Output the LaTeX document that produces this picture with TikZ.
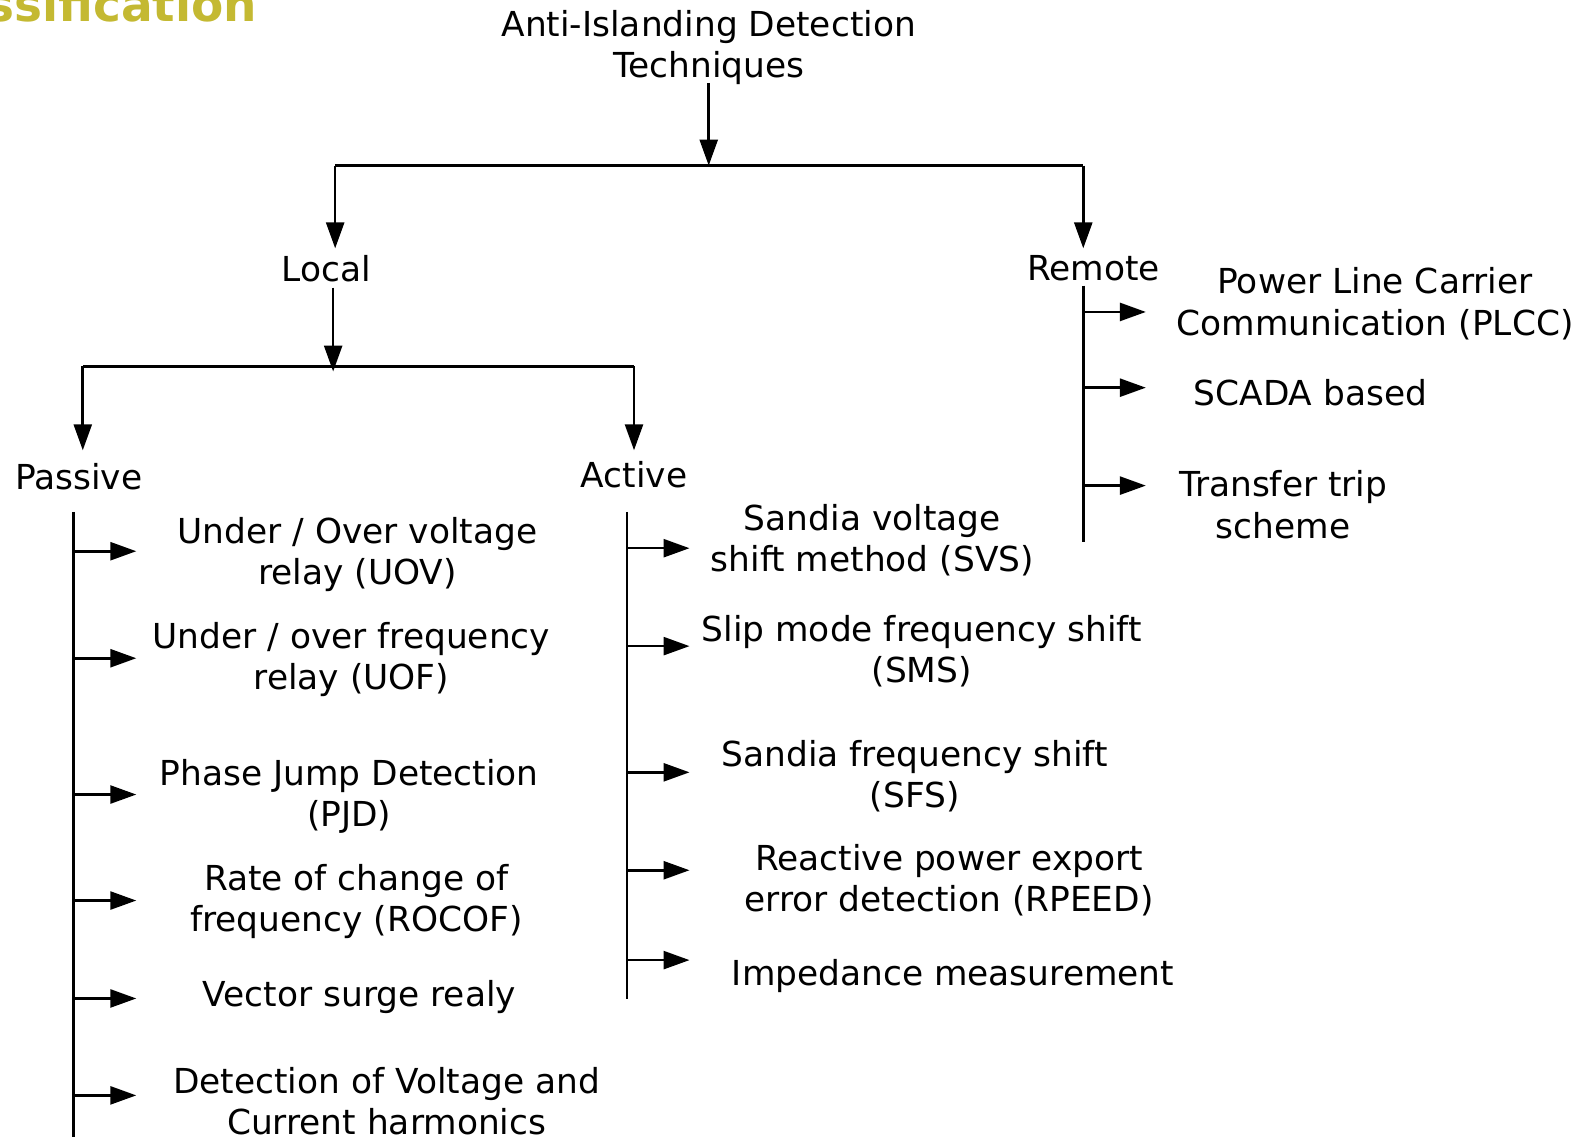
\documentclass[tikz,border=0pt]{standalone}
\usepackage{fontspec}
\setmainfont{DejaVu Sans}
\usetikzlibrary{arrows.meta}
\definecolor{titleolive}{HTML}{C4B932}
\begin{document}
\begin{tikzpicture}[x=1.0096pt,y=-1.0096pt,line width=2.6pt,
  lbl/.style={align=center,inner sep=0pt,font=\fontsize{34.4}{41.4}\selectfont},
  arr/.style={-{Triangle[length=26pt,width=18pt]}}]
\useasboundingbox (0,0) rectangle (1568,1126);
\clip (0,0) rectangle (1568,1126);
% cut-off heading
\node[anchor=base east,inner sep=0pt,text=titleolive,font=\bfseries\fontsize{47}{50}\selectfont] (head) at (256,21) {Classification};
% top
\node[lbl] (title) at (702,47) {Anti-Islanding Detection\\Techniques};
\coordinate (j0) at (702,164);
\coordinate (jl) at (332,164);
\coordinate (jr) at (1073,164);
\draw[arr] (702,82) -- (j0);
\draw (jl) -- (jr);
\node[lbl] (local) at (323,266) {Local};
\node[lbl] (remote) at (1083,266) {Remote};
\draw[arr] (jl) -- (332,246);
\draw[arr] (jr) -- (1073,246);
% local split
\coordinate (ja) at (330,368);
\coordinate (jpl) at (82,363);
\coordinate (jpr) at (628,363);
\draw[arr] (330,285) -- (ja);
\draw (jpl) -- (jpr);
\draw[arr] (jpl) -- (82,446);
\draw[arr] (jpr) -- (628,446);
\node[lbl] (passive) at (78,472) {Passive};
\node[lbl] (active) at (628,470) {Active};
% passive list
\coordinate (pt) at (73,507);
\coordinate (pb) at (73,1130);
\draw (pt) -- (pb);
\foreach \y in {546,652,787,892,989,1085} \draw[arr] (73,\y) -- (135,\y);
\node[lbl] (uov) at (354,549) {Under / Over voltage\\relay (UOV)};
\node[lbl] (uof) at (348,653) {Under / over frequency\\relay (UOF)};
\node[lbl] (pjd) at (346,789) {Phase Jump Detection\\(PJD)};
\node[lbl] (rocof) at (353,893) {Rate of change of\\frequency (ROCOF)};
\node[lbl] (vsr) at (356,988) {Vector surge realy};
\node[lbl] (dvc) at (383,1091) {Detection of Voltage and\\Current harmonics};
% active list
\coordinate (at) at (621,507);
\coordinate (ab) at (621,990);
\draw (at) -- (ab);
\foreach \y in {543,640,765,862,951} \draw[arr] (621,\y) -- (683,\y);
\node[lbl] (svs) at (864,535) {Sandia voltage\\shift method (SVS)};
\node[lbl] (sms) at (913,645) {Slip mode frequency shift\\(SMS)};
\node[lbl] (sfs) at (906,769) {Sandia frequency shift\\(SFS)};
\node[lbl] (rpeed) at (940,872) {Reactive power export\\error detection (RPEED)};
\node[lbl] (imp) at (944,967) {Impedance measurement};
% remote list
\coordinate (rt) at (1073,283);
\coordinate (rb) at (1073,537);
\draw (rt) -- (rb);
\foreach \y in {309,384,481} \draw[arr] (1073,\y) -- (1135,\y);
\node[lbl] (plcc) at (1362,301) {Power Line Carrier\\Communication (PLCC)};
\node[lbl] (scada) at (1298,389) {SCADA based};
\node[lbl] (tts) at (1271,500) {Transfer trip\\scheme};
\end{tikzpicture}
\end{document}
